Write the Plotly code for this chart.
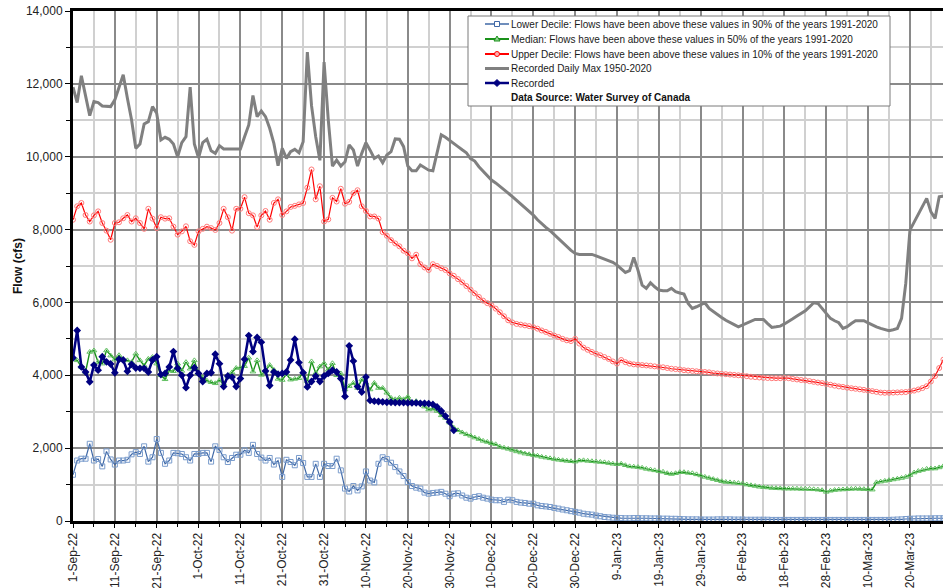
import pandas as pd
import plotly.graph_objects as go

START = "2022-09-01"

LOWER_DECILE = [
    1270, 1660, 1710, 1710, 2120, 1660, 1700, 1500, 1910, 1690,
    1550, 1660, 1660, 1680, 1830, 1890, 1840, 2050, 1630, 1750,
    2250, 1870, 1570, 1660, 1870, 1860, 1840, 1750, 1660, 1840,
    1840, 1870, 1870, 1630, 2050, 1950, 1750, 1620, 1730, 1820,
    1820, 1940, 1870, 2090, 1840, 1740, 1660, 1730, 1550, 1660,
    1210, 1680, 1620, 1530, 1730, 1590, 1210, 1210, 1570, 1210,
    1570, 1510, 1510, 1710, 1390, 890, 810, 960, 840, 950,
    1360, 1110, 1060, 1570, 1750, 1700, 1600, 1480, 1360, 1235,
    1070, 960, 915, 890, 780, 750, 770, 780, 800, 750,
    680, 750, 760, 700, 640, 615, 660, 680, 640, 615,
    585, 570, 570, 525, 585, 570, 525, 505, 495, 475,
    475, 430, 410, 400, 385, 360, 340, 315, 295, 270,
    250, 230, 200, 185, 175, 150, 130, 110, 100, 90,
    85, 80, 75, 75, 80, 80, 75, 75, 70, 70,
    70, 65, 65, 60, 60, 55, 50, 45, 45, 45,
    40, 40, 40, 40, 45, 45, 45, 45, 40, 40,
    40, 35, 35, 35, 35, 35, 35, 30, 30, 30,
    30, 30, 30, 30, 30, 30, 30, 30, 30, 30,
    30, 30, 30, 30, 30, 30, 30, 30, 30, 30,
    30, 30, 30, 30, 30, 30, 35, 40, 45, 55,
    60, 65, 70, 70, 70, 70, 75, 75, 75,
]

MEDIAN = [
    4450, 4410, 4230, 4090, 4640, 4680, 4360, 4320, 4680, 4540,
    4430, 4550, 4420, 4410, 4360, 4590, 4410, 4270, 4450, 4500,
    4320, 4000, 3890, 4130, 4110, 4320, 4120, 4360, 4180, 4410,
    4040, 3940, 3850, 3810, 3780, 3860, 3770, 3960, 4080, 4200,
    4210, 4250, 4480, 4100, 4410, 4010, 4120, 4280, 4150, 3900,
    3870, 4030, 3880, 3900, 3920, 4080, 3840, 4380, 4060, 4240,
    4330, 4150, 4330, 4000, 4050, 3610, 3700, 3790, 3650, 3880,
    3790, 3610, 3790, 3650, 3650, 3520, 3380, 3340, 3380, 3340,
    3410, 3250, 3290, 3250, 3140, 3060, 3080, 3020, 2900, 2830,
    2700, 2560, 2490, 2430, 2380, 2340, 2290, 2250, 2200, 2170,
    2135, 2105, 2040, 2010, 1980, 1950, 1910, 1880, 1850, 1830,
    1810, 1790, 1760, 1740, 1720, 1700, 1680, 1665, 1650, 1640,
    1630, 1660, 1665, 1650, 1640, 1630, 1620, 1610, 1590, 1570,
    1560, 1570, 1530, 1500, 1490, 1480, 1460, 1430, 1410, 1390,
    1370, 1350, 1310, 1290, 1310, 1340, 1340, 1320, 1310, 1280,
    1250, 1210, 1180, 1150, 1120, 1090, 1070, 1060, 1050, 1040,
    1030, 1000, 980, 960, 940, 930, 920, 905, 900, 895,
    890, 887, 887, 887, 880, 885, 880, 870, 860, 845,
    800, 830, 850, 860, 865, 875, 880, 887, 880, 875,
    870, 860, 1060, 1080, 1100, 1120, 1140, 1160, 1180, 1210,
    1260, 1330, 1370, 1400, 1430, 1440, 1440, 1470, 1510,
]

UPPER_DECILE = [
    8270, 8640, 8730, 8400, 8220, 8390, 8500, 8180, 7970, 7720,
    8180, 8200, 8310, 8400, 8220, 8310, 8180, 8020, 8570, 8300,
    8040, 8340, 8300, 8310, 8080, 7860, 7950, 8090, 7680, 7580,
    7950, 8020, 8080, 8040, 7990, 8180, 8570, 8340, 7970, 8570,
    8570, 8890, 8450, 8390, 8070, 8390, 8510, 8270, 8730, 8830,
    8400, 8500, 8620, 8650, 8690, 8730, 9150, 9650, 8830, 9190,
    8220, 8280, 8870, 8770, 9120, 8710, 8760, 9000, 9080, 8640,
    8510, 8360, 8360, 8300, 7930, 7830, 7710, 7620, 7540, 7420,
    7350, 7210, 7310, 7050, 6960, 6890, 7050, 7000, 6940, 6890,
    6800, 6730, 6640, 6550, 6450, 6350, 6250, 6150, 6050, 5980,
    5920, 5830, 5730, 5620, 5510, 5450, 5410, 5390, 5370, 5350,
    5320, 5280, 5230, 5190, 5140, 5090, 5050, 5000, 4960, 4940,
    5000, 4870, 4760, 4700, 4640, 4590, 4550, 4500, 4450, 4380,
    4320, 4420, 4360, 4320, 4300, 4290, 4280, 4270, 4260, 4245,
    4230, 4220, 4200, 4180, 4170, 4160, 4140, 4130, 4120, 4110,
    4100, 4090, 4080, 4060, 4050, 4040, 4030, 4020, 4010, 4000,
    3990, 3975, 3960, 3950, 3940, 3930, 3925, 3920, 3920, 3920,
    3925, 3920, 3900, 3885, 3870, 3860, 3840, 3820, 3800, 3785,
    3760, 3740, 3715, 3695, 3680, 3660, 3645, 3630, 3615, 3600,
    3580, 3565, 3545, 3525, 3520, 3520, 3525, 3530, 3535, 3540,
    3560, 3580, 3610, 3650, 3700, 3830, 3980, 4200, 4430,
]

DAILY_MAX = [
    11908, 11486, 12220, 11651, 11128, 11514, 11486, 11394, 11394, 11376,
    11560, 11908, 12248, 11605, 11009, 10229, 10349, 10899, 10963, 11376,
    11193, 10459, 10532, 10477, 10349, 10000, 10385, 10550, 11908, 10349,
    9972, 10385, 10477, 10165, 10092, 10303, 10211, 10211, 10211, 10211,
    10211, 10550, 10872, 11679, 11101, 11257, 11101, 10780, 10367, 9752,
    10229, 9954, 10138, 10202, 10110, 10413, 12871, 11400, 10550, 9900,
    12600, 11014, 9742, 9908, 9742, 9862, 10323, 10184, 9742, 10092,
    10387, 10180, 9954, 10018, 9834, 10046, 10138, 10488, 10479, 10276,
    9742, 9613, 9613, 9770, 9705, 9631, 9613, 10100, 10599, 10535,
    10442, 10360, 10276, 10190, 10110, 9950, 9880, 9725, 9610, 9480,
    9359, 9280, 9195, 9100, 9000, 8902, 8800, 8700, 8609, 8500,
    8398, 8270, 8151, 8060, 7968, 7860, 7758, 7640, 7529, 7430,
    7346, 7318, 7318, 7318, 7318, 7280, 7236, 7200, 7163, 7100,
    7025, 6920, 6824, 6870, 7236, 6888, 6476, 6385, 6540, 6430,
    6339, 6320, 6320, 6385, 6293, 6260, 6229, 5973, 5835, 5881,
    5927, 5991, 5835, 5744, 5660, 5588, 5510, 5442, 5390, 5332,
    5380, 5424, 5480, 5533, 5533, 5533, 5420, 5314, 5330, 5350,
    5410, 5469, 5550, 5625, 5700, 5771, 5880, 5991, 5973, 5835,
    5698, 5561, 5497, 5442, 5286, 5332, 5420, 5497, 5497, 5497,
    5440, 5378, 5330, 5286, 5250, 5222, 5250, 5286, 5561, 6522,
    7986, 8200, 8398, 8630, 8856, 8490, 8307, 8902, 8920,
]

RECORDED = [
    4480, 5230, 4230, 4090, 3820, 4280, 4140, 4510, 4370, 4310,
    4070, 4440, 4420, 4110, 4300, 4200, 4190, 4190, 4090, 4420,
    4510, 4020, 4050, 4230, 4650, 4190, 4000, 3660, 4000, 4210,
    4050, 3830, 4050, 4070, 4580, 4320, 3690, 3980, 3950, 3690,
    3910, 4440, 5090, 4650, 5040, 4910, 4120, 3720, 4090, 4030,
    4050, 4090, 4420, 4990, 4350, 4070, 3680, 3830, 3980, 3830,
    3980, 4050, 4140, 4090, 3910, 3420, 4810, 4390, 3690, 3540,
    3950, 3310, 3290, 3280, 3270, 3260, 3260, 3250, 3250, 3250,
    3240, 3240, 3240, 3230, 3230, 3220, 3200, 3130, 3020, 2880,
    2720, 2490,
]

TICK_LABELS = [
    "1-Sep-22", "11-Sep-22", "21-Sep-22", "1-Oct-22", "11-Oct-22", "21-Oct-22",
    "31-Oct-22", "10-Nov-22", "20-Nov-22", "30-Nov-22", "10-Dec-22", "20-Dec-22",
    "30-Dec-22", "9-Jan-23", "19-Jan-23", "29-Jan-23", "8-Feb-23", "18-Feb-23",
    "28-Feb-23", "10-Mar-23", "20-Mar-23",
]
Y_TICKS = [0, 2000, 4000, 6000, 8000, 10000, 12000, 14000]

LEGEND_NAMES = [
    "Lower Decile: Flows have been above these values in 90% of the years 1991-2020",
    "Median: Flows have been above these values in 50% of the years 1991-2020",
    "Upper Decile: Flows have been above these values in 10% of the years 1991-2020",
    "Recorded Daily Max 1950-2020",
    "Recorded",
]
SOURCE_NOTE = "Data Source: Water Survey of Canada"

FONT = "Liberation Sans, Arial, sans-serif"

def dates(n):
    return pd.date_range(START, periods=n, freq="D")

tick_dates = pd.date_range(START, periods=len(TICK_LABELS), freq="10D")
minor_dates = pd.date_range("2022-09-06", periods=len(TICK_LABELS), freq="10D")

fig = go.Figure()

fig.add_trace(go.Scatter(
    x=dates(len(LOWER_DECILE)), y=LOWER_DECILE, mode="lines+markers",
    line=dict(color="#3f68a6", width=1.2),
    marker=dict(symbol="square-open", size=5, color="#7a9ccc", line=dict(width=1)),
    showlegend=False))
fig.add_trace(go.Scatter(
    x=dates(len(MEDIAN)), y=MEDIAN, mode="lines+markers",
    line=dict(color="#1a911a", width=1.4),
    marker=dict(symbol="triangle-up-open", size=5, color="#62c062", line=dict(width=1)),
    showlegend=False))
fig.add_trace(go.Scatter(
    x=dates(len(UPPER_DECILE)), y=UPPER_DECILE, mode="lines+markers",
    line=dict(color="#ff0000", width=1.2),
    marker=dict(symbol="circle-open", size=5, color="#ff7a7a", line=dict(width=1)),
    showlegend=False))
fig.add_trace(go.Scatter(
    x=dates(len(DAILY_MAX)), y=DAILY_MAX, mode="lines",
    line=dict(color="#808080", width=3),
    showlegend=False))
fig.add_trace(go.Scatter(
    x=dates(len(RECORDED)), y=RECORDED, mode="lines+markers",
    line=dict(color="#000080", width=2.5),
    marker=dict(symbol="diamond", size=6, color="#000080"),
    showlegend=False))

# pixel geometry of the plot area
L, R, T, B = 73, 943, 11, 521
W, H = R - L, B - T

def px(x):
    return (x - L) / W

def py(y):
    return (B - y) / H

x_end = pd.Timestamp(START) + pd.Timedelta(days=207.9)

fig.update_layout(
    width=943, height=588,
    margin=dict(l=L, r=943 - R, t=T, b=588 - B, autoexpand=False),
    paper_bgcolor="white", plot_bgcolor="white",
    font=dict(family=FONT, size=12, color="#222222"),
    showlegend=False,
)
fig.update_xaxes(
    type="date", range=[pd.Timestamp(START), x_end], automargin=False,
    tickmode="array", tickvals=list(tick_dates), ticktext=TICK_LABELS,
    tickangle=-90, tickfont=dict(size=12, color="#222222"),
    ticks="outside", ticklen=4, tickcolor="black", tickwidth=1,
    showgrid=True, gridcolor="#8a8a8a", gridwidth=1.7,
    minor=dict(tickmode="array", tickvals=list(minor_dates), showgrid=True,
               gridcolor="#d0d0d0", gridwidth=1.6, ticks="outside", ticklen=3,
               tickcolor="black"),
    showline=True, linecolor="black", linewidth=3, mirror=True,
    zeroline=False,
)
fig.update_yaxes(
    range=[0, 14000], tickmode="array", tickvals=Y_TICKS, automargin=False,
    ticktext=[f"{v:,}" for v in Y_TICKS],
    tickfont=dict(size=12, color="#222222"),
    ticks="outside", ticklen=5, tickcolor="black",
    showgrid=True, gridcolor="#8a8a8a", gridwidth=1.7,
    minor=dict(dtick=1000, showgrid=True, gridcolor="#d0d0d0", gridwidth=1.6,
               ticks="outside", ticklen=4, tickcolor="black"),
    showline=True, linecolor="black", linewidth=3,
    zeroline=False,
)

# y-axis title
fig.add_annotation(x=px(18), y=py(266), xref="paper", yref="paper",
                   text="<b>Flow (cfs)</b>", textangle=-90, showarrow=False,
                   xanchor="center", yanchor="middle",
                   font=dict(size=12, color="#111111"))

# custom legend box
shapes = [dict(type="rect", xref="paper", yref="paper",
               x0=px(468), x1=px(890), y0=py(106), y1=py(16),
               fillcolor="white", line=dict(color="#7a7a7a", width=1), layer="above")]
rows = [24, 39, 54, 68.5, 83]
styles = [("#3f68a6", 1.5), ("#1a911a", 2), ("#ff0000", 2), ("#808080", 3), ("#000080", 2.5)]
for yr, (col, wd) in zip(rows, styles):
    shapes.append(dict(type="line", xref="paper", yref="paper",
                       x0=px(485), x1=px(509), y0=py(yr), y1=py(yr),
                       line=dict(color=col, width=wd), layer="above"))
cx = 497
# square
shapes.append(dict(type="rect", xref="paper", yref="paper",
                   x0=px(cx - 2.5), x1=px(cx + 2.5), y0=py(rows[0] + 2.5), y1=py(rows[0] - 2.5),
                   fillcolor="white", line=dict(color="#3f68a6", width=1), layer="above"))
# triangle
ty = rows[1]
shapes.append(dict(type="path", xref="paper", yref="paper",
                   path=f"M {px(cx)} {py(ty - 3)} L {px(cx + 3)} {py(ty + 2)} L {px(cx - 3)} {py(ty + 2)} Z",
                   fillcolor="#8fd48f", line=dict(color="#1a911a", width=1), layer="above"))
# circle
shapes.append(dict(type="circle", xref="paper", yref="paper",
                   x0=px(cx - 2.5), x1=px(cx + 2.5), y0=py(rows[2] + 2.5), y1=py(rows[2] - 2.5),
                   fillcolor="#ffb0b0", line=dict(color="#ff0000", width=1), layer="above"))
# diamond
dy = rows[4]
shapes.append(dict(type="path", xref="paper", yref="paper",
                   path=f"M {px(cx)} {py(dy - 3.5)} L {px(cx + 3.5)} {py(dy)} L {px(cx)} {py(dy + 3.5)} L {px(cx - 3.5)} {py(dy)} Z",
                   fillcolor="#000080", line=dict(color="#000080", width=1), layer="above"))
fig.update_layout(shapes=shapes)

for yr, name in zip(rows, LEGEND_NAMES):
    fig.add_annotation(x=px(509), y=py(yr), xref="paper", yref="paper",
                       text=name, showarrow=False, xanchor="left", yanchor="middle",
                       font=dict(size=10, color="#1a1a1a"))
fig.add_annotation(x=px(509), y=py(98), xref="paper", yref="paper",
                   text=f"<b>{SOURCE_NOTE}</b>", showarrow=False, xanchor="left",
                   yanchor="middle", font=dict(size=10, color="#111111"))

fig.write_html(
    "out.html",
    config={"displayModeBar": False},
    post_script="document.body.style.margin='0';document.body.style.overflow='hidden';",
)
